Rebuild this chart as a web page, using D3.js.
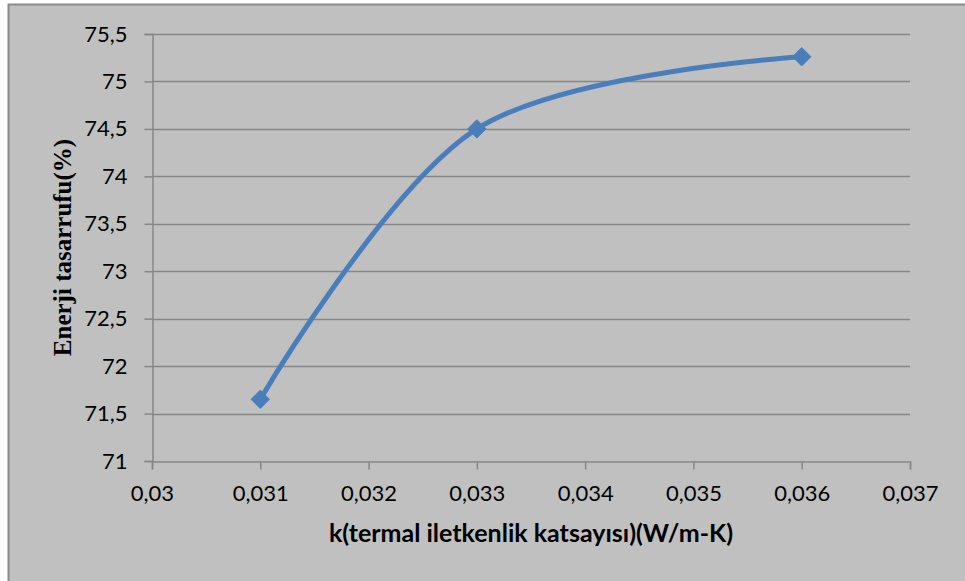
<!DOCTYPE html>
<html>
<head>
<meta charset="utf-8">
<script src="https://cdn.jsdelivr.net/npm/d3@7"></script>
<style>
  html, body { margin: 0; padding: 0; background: #ffffff; }
  svg { display: block; }
</style>
</head>
<body>
<script>
// Thermal conductivity vs. energy savings
const kValues = [0.031, 0.033, 0.036];
const savings = [71.65, 74.5, 75.26];
const xTicks = [0.030, 0.031, 0.032, 0.033, 0.034, 0.035, 0.036, 0.037];
const yTicks = [71, 71.5, 72, 72.5, 73, 73.5, 74, 74.5, 75, 75.5];
const xTitle = "k(termal iletkenlik katsayısı)(W/m-K)";
const yTitle = "Enerji tasarrufu(%)";

const W = 965, H = 581;
const plot = { left: 152, right: 910, top: 34, bottom: 461 };
const sans = "Lato, 'Open Sans', sans-serif";

const svg = d3.select("body").append("svg").attr("width", W).attr("height", H);

// chart area with frame
svg.append("rect")
  .attr("x", 8.5).attr("y", 4.5)
  .attr("width", W + 10).attr("height", H + 10)
  .attr("fill", "#c0c0c0").attr("stroke", "#8a8a8a").attr("stroke-width", 2);

const x = d3.scaleLinear().domain([0.030, 0.037]).range([plot.left, plot.right]);
const y = d3.scaleLinear().domain([71, 75.5]).range([plot.bottom, plot.top]);

const fmt = d => d3.format("~g")(+d.toFixed(4)).replace(".", ",");

// horizontal gridlines
svg.append("g").selectAll("line").data(yTicks.slice(1)).join("line")
  .attr("x1", plot.left).attr("x2", plot.right)
  .attr("y1", d => Math.round(y(d)) + 0.5).attr("y2", d => Math.round(y(d)) + 0.5)
  .attr("stroke", "#868686").attr("stroke-width", 1.5);

// y axis
const yAxis = svg.append("g")
  .attr("transform", `translate(${plot.left + 0.5},0)`)
  .call(d3.axisLeft(y).tickValues(yTicks).tickFormat(fmt).tickSize(8).tickPadding(17));
yAxis.select(".domain").attr("stroke", "#868686").attr("stroke-width", 1.5);
yAxis.selectAll(".tick line").attr("stroke", "#868686").attr("stroke-width", 1.5);
yAxis.selectAll(".tick text")
  .attr("fill", "#000").style("font-family", sans).style("font-size", "22px");

// x axis
const xAxis = svg.append("g")
  .attr("transform", `translate(0,${plot.bottom + 0.5})`)
  .call(d3.axisBottom(x).tickValues(xTicks).tickFormat(fmt).tickSize(8).tickPadding(16));
xAxis.select(".domain").attr("stroke", "#868686").attr("stroke-width", 1.5);
xAxis.selectAll(".tick line").attr("stroke", "#868686").attr("stroke-width", 1.5);
xAxis.selectAll(".tick text")
  .attr("fill", "#000").style("font-family", sans).style("font-size", "22px");

// smoothed series line
const pts = kValues.map((k, i) => [k, savings[i]]);
const line = d3.line()
  .x(d => x(d[0])).y(d => y(d[1]))
  .curve(d3.curveCardinal.tension(0));
svg.append("path").datum(pts)
  .attr("d", line)
  .attr("fill", "none").attr("stroke", "#4a7ebb").attr("stroke-width", 5)
  .attr("stroke-linejoin", "round");

// diamond markers
const diamond = d3.symbol().type(d3.symbolDiamond2).size(215);
svg.append("g").selectAll("path").data(pts).join("path")
  .attr("transform", d => `translate(${x(d[0])},${y(d[1])})`)
  .attr("d", diamond)
  .attr("fill", "#4a7ebb").attr("stroke", "#4a7ebb").attr("stroke-width", 1);

// axis titles
svg.append("text")
  .attr("x", (plot.left + plot.right) / 2).attr("y", 542)
  .attr("text-anchor", "middle")
  .style("font-family", sans).style("font-weight", "bold").style("font-size", "25px")
  .text(xTitle);

svg.append("text")
  .attr("transform", `translate(71,${(plot.top + plot.bottom) / 2}) rotate(-90)`)
  .attr("text-anchor", "middle")
  .style("font-family", "'Liberation Serif', 'Times New Roman', serif").style("font-weight", "bold").style("font-size", "25px")
  .text(yTitle);
</script>
</body>
</html>
